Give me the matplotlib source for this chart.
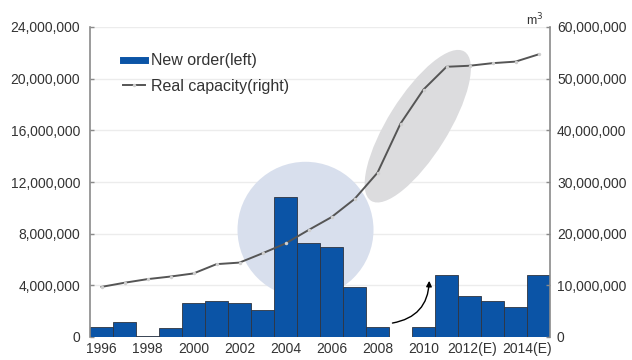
import matplotlib
matplotlib.use("Agg")
import matplotlib.pyplot as plt
from matplotlib.patches import Ellipse
from matplotlib.lines import Line2D
from matplotlib.transforms import Affine2D, ScaledTranslation
from matplotlib.ticker import FuncFormatter, MultipleLocator

plt.rcParams['font.family'] = ['Liberation Sans', 'DejaVu Sans']

years = list(range(1996, 2016))
tick_labels = ["1996", "1998", "2000", "2002", "2004", "2006", "2008", "2010", "2012(E)", "2014(E)"]
new_order = [800000, 1200000, 100000, 670000, 2600000, 2800000, 2600000, 2100000,
             10850000, 7250000, 7000000, 3900000, 800000, 0, 750000, 4800000,
             3170000, 2810000, 2300000, 4800000]
real_capacity = [9700000, 10500000, 11200000, 11700000, 12300000, 14100000, 14400000,
                 16200000, 18100000, 20700000, 23200000, 26700000, 31800000, 41300000,
                 47900000, 52300000, 52500000, 53000000, 53300000, 54700000]

fig = plt.figure(figsize=(6.32, 3.6), dpi=100)
ax = fig.add_axes([90/632, 1-337/360, 460/632, 310/360])
ax2 = ax.twinx()
ax.set_zorder(1)
ax2.set_zorder(2)
ax.patch.set_visible(True)
ax.patch.set_facecolor('white')
ax2.patch.set_visible(False)

x = list(range(len(years)))
ax.set_xlim(-0.5, len(years) - 0.5)
ax.set_ylim(0, 24000000)
ax2.set_ylim(0, 60000000)

# grid
for v in range(4000000, 24000001, 4000000):
    ax.axhline(v, color='#ececec', lw=1.0, zorder=0)

fmt = FuncFormatter(lambda v, p: "0" if v == 0 else f"{int(v):,}")

def pix_ellipse(axis, cx, cy, w, h, angle, color, z):
    tr = Affine2D().rotate_deg(angle) + ScaledTranslation(cx, cy, axis.transData)
    e = Ellipse((0, 0), w, h, facecolor=color, edgecolor='none', transform=tr, zorder=z)
    axis.add_patch(e)

pix_ellipse(ax, 8.87, 8300000, 136, 136, 0, '#d8dfed', 0.5)

ax.bar(x, new_order, width=1.0, color='#0b54a6', edgecolor='#2f3440', linewidth=0.6, zorder=2)

pix_ellipse(ax2, 13.75, 40800000, 176, 60, 58, '#dcdcde', 0.5)
ax2.plot(x, real_capacity, color='#555555', lw=1.4, marker='o', ms=2.5,
         mfc='#cfcfcf', mec='none', zorder=3)

# arrow
ax.annotate("", xy=(14.25, 4350000), xytext=(12.65, 1080000),
            arrowprops=dict(arrowstyle='-|>', color='black', lw=1.0, mutation_scale=8,
                            connectionstyle='arc3,rad=0.4', shrinkA=0, shrinkB=0),
            zorder=4)

ax.yaxis.set_major_locator(MultipleLocator(4000000))
ax2.yaxis.set_major_locator(MultipleLocator(10000000))
ax.yaxis.set_major_formatter(fmt)
ax2.yaxis.set_major_formatter(fmt)

# x labels: regular ticks, last two nudged right as in the original
label_pos = x[::2]
label_shift_px = [0, 0, 0, 0, 0, 0, 0, 0, 3, 12]
ax.set_xticks(label_pos)
ax.set_xticklabels([""] * len(label_pos))
for p, lab, dx in zip(label_pos, tick_labels, label_shift_px):
    tr = ax.get_xaxis_transform() + ScaledTranslation(dx / 100, -5 / 100, fig.dpi_scale_trans)
    ax.text(p, 0, lab, transform=tr, ha='center', va='top', fontsize=10,
            color='#333333', clip_on=False)

for a in (ax, ax2):
    for s in ('top', 'bottom'):
        a.spines[s].set_visible(False)
ax.spines['right'].set_visible(False)
ax2.spines['left'].set_visible(False)
ax.spines['left'].set_color('#8a8a8a')
ax.spines['left'].set_linewidth(1.2)
ax2.spines['right'].set_color('#8a8a8a')
ax2.spines['right'].set_linewidth(1.2)

ax.tick_params(axis='y', direction='in', length=3, width=1, color='#8a8a8a',
               labelsize=10, labelcolor='#333333', pad=7)
ax2.tick_params(axis='y', direction='in', length=3, width=1, color='#8a8a8a',
                labelsize=10, labelcolor='#333333', pad=5)
ax.tick_params(axis='x', length=0)

ax2.text(0.985, 1.006, "m$^3$", transform=ax2.transAxes, ha='right', va='baseline',
         fontsize=9, color='#333333')

handles = [Line2D([0], [0], color='#0b54a6', lw=5),
           Line2D([0], [0], color='#555555', lw=1.4, marker='o', ms=2.5,
                  mfc='#cfcfcf', mec='none')]
leg = ax2.legend(handles, ["New order(left)", "Real capacity(right)"],
                 loc='upper left', bbox_to_anchor=(0.072, 0.915), frameon=False,
                 fontsize=11.5, handlelength=1.35, handletextpad=0.4,
                 labelspacing=0.65, borderaxespad=0, borderpad=0)
for t in leg.get_texts():
    t.set_color('#333333')

fig.savefig("out.png", dpi=100)
